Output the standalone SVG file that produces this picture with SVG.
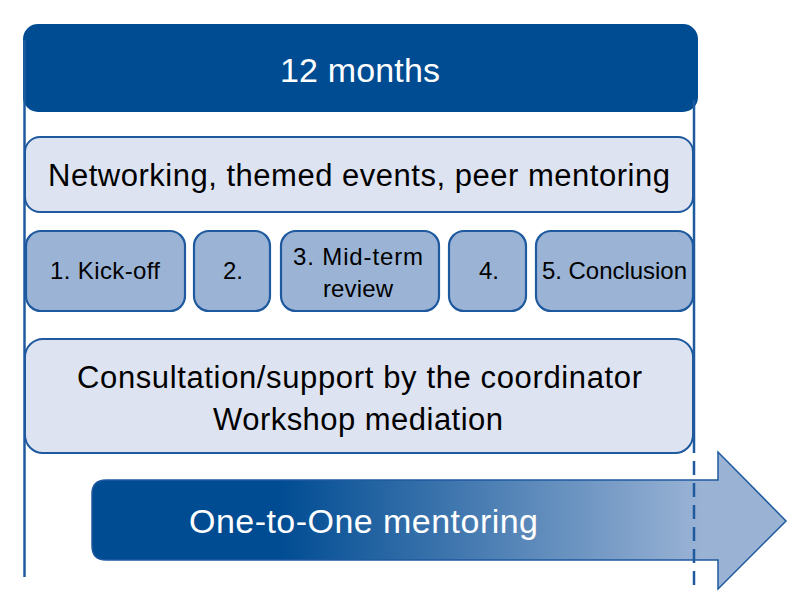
<svg xmlns="http://www.w3.org/2000/svg" width="805" height="608" viewBox="0 0 805 608">
<style>
.t{font-family:"Liberation Sans",Arial,sans-serif;text-anchor:middle}
.dark{fill:#004C93}
.light{fill:#DEE3F1;stroke:#1F5A9E;stroke-width:2}
.mid{fill:#9BB4D6;stroke:#1F5A9E;stroke-width:2.2}
.blk{fill:#000}
.wht{fill:#fff}
.bound{stroke:#1F5A9E;stroke-width:2.5;fill:none}
</style>
<defs>
<linearGradient id="arrowGrad" gradientUnits="userSpaceOnUse" x1="92" y1="0" x2="786" y2="0">
<stop offset="0" stop-color="#004C93"/>
<stop offset="0.27" stop-color="#004C93"/>
<stop offset="0.88" stop-color="#9AB3D5"/>
<stop offset="1" stop-color="#9AB3D5"/>
</linearGradient>
</defs>
<g id="header">
<rect class="dark" x="23" y="24" width="675" height="88" rx="15"/>
<text class="t wht" x="360" y="82" font-size="34" textLength="160">12 months</text>
</g>
<g id="networking">
<rect class="light" x="25" y="137" width="668" height="75" rx="15"/>
<text class="t blk" x="359" y="186" font-size="31" textLength="622">Networking, themed events, peer mentoring</text>
</g>
<g id="phase1">
<rect class="mid" x="26" y="231" width="159" height="80" rx="15"/>
<text class="t blk" x="105" y="279" font-size="24" textLength="110">1. Kick-off</text>
</g>
<g id="phase2">
<rect class="mid" x="194" y="231" width="76" height="80" rx="15"/>
<text class="t blk" x="233" y="279" font-size="24">2.</text>
</g>
<g id="phase3">
<rect class="mid" x="281" y="231" width="158" height="80" rx="15"/>
<text class="t blk" x="358" y="265" font-size="24" textLength="130">3. Mid-term</text>
<text class="t blk" x="358" y="297" font-size="24" textLength="70">review</text>
</g>
<g id="phase4">
<rect class="mid" x="449" y="231" width="77" height="80" rx="15"/>
<text class="t blk" x="489" y="279" font-size="24">4.</text>
</g>
<g id="phase5">
<rect class="mid" x="536" y="231" width="157" height="80" rx="15"/>
<text class="t blk" x="614.5" y="279" font-size="24" textLength="145">5. Conclusion</text>
</g>
<g id="consultation">
<rect class="light" x="25" y="339" width="668" height="114" rx="18"/>
<text class="t blk" x="359.5" y="388" font-size="31" textLength="565">Consultation/support by the coordinator</text>
<text class="t blk" x="358" y="430" font-size="31" textLength="290">Workshop mediation</text>
</g>
<g id="mentoring">
<path d="M106,480 H718 V452 L786,521 L718,589 V560 H106 Q92,560 92,546 V494 Q92,480 106,480 Z" fill="url(#arrowGrad)" stroke="#1F5A9E" stroke-width="1.5"/>
<text class="t wht" x="363.5" y="533" font-size="34" textLength="349">One-to-One mentoring</text>
</g>
<g id="connectors">
<line class="bound" x1="24.5" y1="40" x2="24.5" y2="577"/>
<line class="bound" x1="694" y1="100" x2="694" y2="453"/>
<line class="bound" x1="694" y1="461" x2="694" y2="588" stroke-dasharray="14 8"/>
</g>
</svg>
